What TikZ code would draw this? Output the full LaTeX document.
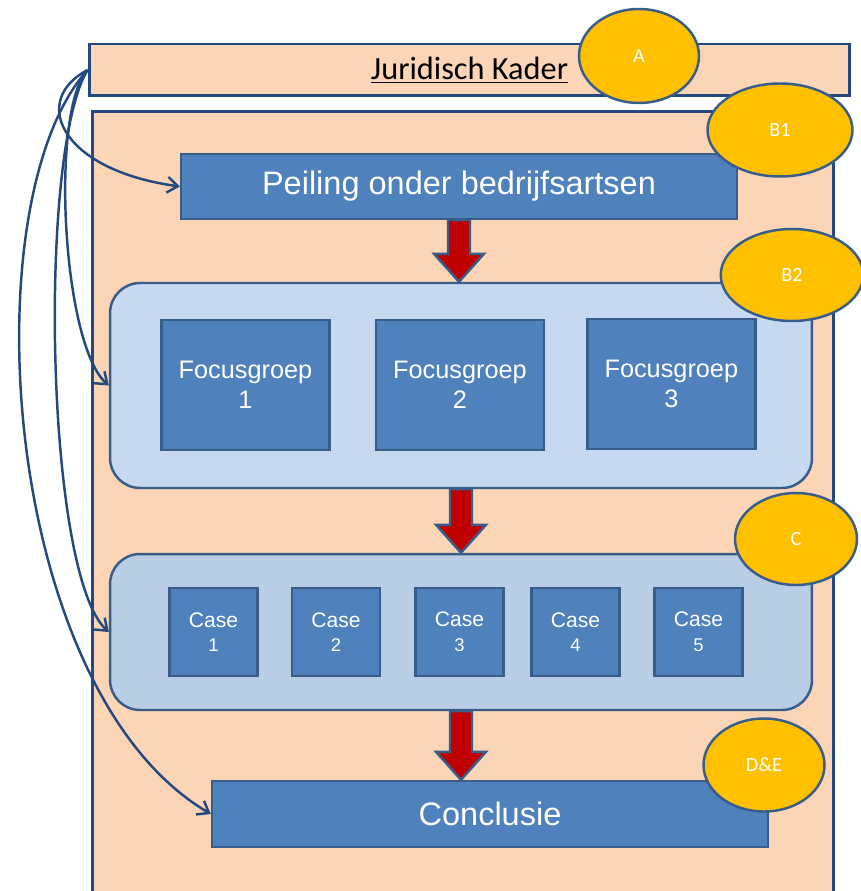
\documentclass[tikz,border=0pt]{standalone}
\usepackage{fontspec}
\setmainfont{Liberation Sans}
\newfontfamily\calibri{Carlito}
\usetikzlibrary{arrows.meta,positioning,shapes.geometric,calc}

\definecolor{peach}{HTML}{FBD5B5}
\definecolor{navy}{HTML}{24497F}
\definecolor{boxblue}{HTML}{4F81BD}
\definecolor{boxedge}{HTML}{385D8A}
\definecolor{paleblue}{HTML}{C6D9F1}
\definecolor{caseblue}{HTML}{B9CDE5}
\definecolor{gold}{HTML}{FFC000}
\definecolor{darkred}{HTML}{C00000}

\begin{document}
\begin{tikzpicture}[x=0.02cm, y=-0.02cm, >={Straight Barb[length=6pt,width=9pt]}]
    \tikzstyle{panel} = [draw=navy, fill=peach, line width=1.7pt, rectangle];
    \tikzstyle{block} = [draw=boxedge, fill=boxblue, line width=1.4pt, rectangle, text=white, align=center];
    \tikzstyle{group} = [draw=boxedge, line width=1.4pt, rectangle, rounded corners=0.6cm, minimum width=14.04cm];
    \tikzstyle{fgbox} = [block, minimum width=3.36cm, minimum height=2.6cm, font=\fontsize{14.4}{17}\selectfont];
    \tikzstyle{casebox} = [block, minimum width=1.76cm, minimum height=1.76cm, font=\fontsize{12}{14}\selectfont];
    \tikzstyle{tag} = [ellipse, draw=boxedge, fill=gold, line width=1.4pt, text=white, inner sep=0pt, font=\calibri\fontsize{11.5}{13}\selectfont];
    \tikzstyle{link} = [->, draw=navy, line width=1.4pt];
    \tikzstyle{redarrow} = [draw=boxedge, fill=darkred, line width=1.4pt, line join=miter];
    \useasboundingbox (0,0) rectangle (860,891);
    \node [panel, minimum width=15.22cm, minimum height=1.04cm, font=\calibri\fontsize{18.4}{20}\selectfont] (kader) at (469.5,70) {\underline{Juridisch Kader}};
    \node [panel, anchor=north west, minimum width=14.82cm, minimum height=16.6cm] (frame) at (91,110) {};
    \node [block, minimum width=11.12cm, minimum height=1.3cm, font=\fontsize{18.5}{20}\selectfont] (peiling) at (459,186.5) {Peiling onder bedrijfsartsen};
    \node [group, fill=paleblue, minimum height=4.1cm] (focus) at (461,385.5) {};
    \node [fgbox] (fg1) at (245.5,385) {Focusgroep\\1};
    \node [fgbox, right=0.88cm of fg1] (fg2) {Focusgroep\\2};
    \node [fgbox, right=0.82cm of fg2, yshift=0.02cm] (fg3) {Focusgroep\\3};
    \node [group, fill=caseblue, minimum height=3.12cm] (cases) at (461,632) {};
    \foreach \i/\x in {1/213.5, 2/336, 3/459.5, 4/575.5, 5/698.5}
      \node [casebox] (case\i) at (\x,632) {Case\\{\fontsize{10.5}{12}\selectfont\i}};
    \node [block, minimum width=11.12cm, minimum height=1.32cm, font=\fontsize{18.5}{20}\selectfont] (concl) at (490,814) {Conclusie};
    % thick red arrows between the stages
    \foreach \a/\b in {peiling/focus, focus/cases, cases/concl}
      \draw [redarrow] ($(\a.south)+(-11,0)$) -- ($(\a.south |- \b.north)+(-11,-28)$) -- ++(-14,0)
        -- (\a.south |- \b.north) -- ($(\a.south |- \b.north)+(25,-28)$) -- ++(-14,0)
        -- ($(\a.south)+(11,0)$) -- cycle;
    % links from the legal frame
    \draw [link] (kader.west) .. controls (30,100) and (60,170) .. (peiling.west);
    \draw [link] (kader.west) .. controls (50,110) and (62,345) .. (focus.west);
    \draw [link] (kader.west) .. controls (38,150) and (45,575) .. (cases.west);
    \draw [link] (kader.west) .. controls (-30,200) and (0,690) .. (concl.west);
    % labels
    \node [tag, minimum width=2.4cm, minimum height=1.88cm] (tagA) at (639,56) {A};
    \node [tag, minimum width=2.9cm, minimum height=1.86cm] (tagB1) at (780,130) {B1};
    \node [tag, minimum width=2.85cm, minimum height=1.84cm] (tagB2) at (792,275) {B2};
    \node [tag, minimum width=2.44cm, minimum height=1.84cm] (tagC) at (796,539) {C};
    \node [tag, minimum width=2.42cm, minimum height=1.86cm] (tagDE) at (764,765) {D\&E};
\end{tikzpicture}
\end{document}
